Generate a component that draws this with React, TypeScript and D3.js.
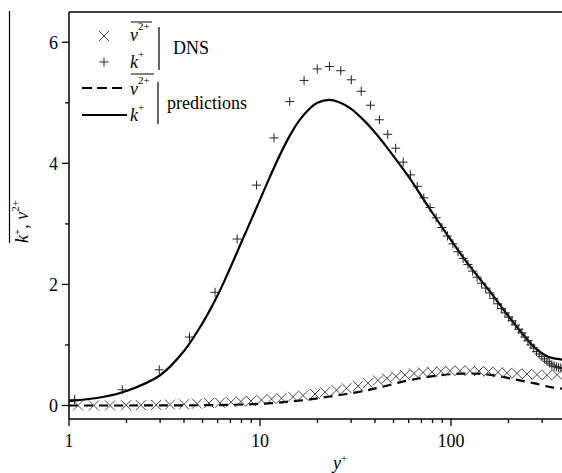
import React from "react";
import * as d3 from "d3";

// ---------- data ----------
// DNS k+ (plus markers)
const dnsKY = [1.07, 1.902, 2.97, 4.275, 5.815, 7.59, 9.598, 11.84, 14.31, 17.01, 19.94, 23.09, 26.47, 30.07, 33.89, 37.92, 42.18, 46.64, 51.32, 56.2, 61.28, 66.57, 72.05, 77.73, 83.6, 89.66, 95.9, 102.32, 108.92, 115.69, 122.63, 129.73, 137.0, 144.4, 151.98, 159.7, 167.56, 175.55, 183.68, 191.93, 200.31, 208.8, 217.41, 226.11, 234.93, 243.84, 252.84, 261.93, 271.09, 280.34, 289.65, 299.02, 308.45, 317.94, 327.47, 337.04, 346.65, 356.28, 365.94, 375.62, 385.31, 395];
const dnsK = [0.1, 0.26, 0.59, 1.13, 1.87, 2.75, 3.64, 4.42, 5.02, 5.37, 5.56, 5.6, 5.53, 5.38, 5.19, 4.96, 4.72, 4.48, 4.25, 4.02, 3.81, 3.62, 3.43, 3.27, 3.1, 2.94, 2.8, 2.67, 2.54, 2.43, 2.33, 2.22, 2.12, 2.02, 1.94, 1.86, 1.77, 1.68, 1.6, 1.53, 1.46, 1.4, 1.33, 1.26, 1.2, 1.13, 1.07, 1.0, 0.95, 0.89, 0.85, 0.81, 0.77, 0.73, 0.7, 0.67, 0.65, 0.64, 0.63, 0.62, 0.61, 0.61];

// DNS v2+ (cross markers)
const dnsV2Y = [1.115, 1.35, 1.64, 1.99, 2.38, 2.86, 3.38, 4.0, 4.68, 5.41, 6.17, 7.05, 7.95, 8.97, 10.18, 11.49, 12.96, 14.89, 16.8, 19.41, 21.89, 25.15, 28.38, 32.6, 36.77, 41.47, 46.24, 51.5, 57.4, 64.0, 71.4, 79.5, 88.6, 98.8, 111.4, 125.8, 140.2, 157.1, 176.2, 196.4, 221.6, 250, 282, 318, 359];
const dnsV2 = [0.0, 0.0, 0.0, 0.005, 0.005, 0.01, 0.015, 0.02, 0.03, 0.04, 0.045, 0.055, 0.065, 0.075, 0.09, 0.105, 0.12, 0.145, 0.165, 0.19, 0.22, 0.255, 0.285, 0.32, 0.37, 0.415, 0.45, 0.48, 0.505, 0.53, 0.545, 0.555, 0.565, 0.575, 0.575, 0.575, 0.57, 0.56, 0.55, 0.54, 0.53, 0.52, 0.51, 0.5, 0.51];

// predictions k+ (solid)
const predKY = [1, 1.5, 2, 3, 4, 5, 6, 7, 8, 10, 12, 14, 16, 18, 20, 23, 26, 30, 35, 40, 45, 50, 60, 70, 80, 100, 120, 140, 160, 195, 240, 280, 320, 360, 400];
const predK = [0.07, 0.14, 0.24, 0.5, 0.9, 1.36, 1.82, 2.28, 2.7, 3.4, 3.97, 4.4, 4.7, 4.89, 5.0, 5.05, 5.01, 4.9, 4.71, 4.51, 4.31, 4.12, 3.78, 3.46, 3.18, 2.73, 2.38, 2.11, 1.88, 1.52, 1.16, 0.93, 0.81, 0.77, 0.75];

// predictions v2+ (dashed)
const predV2Y = [1, 2, 3, 5.26, 7.22, 9.19, 11.5, 14.65, 18.27, 22.8, 28.4, 36.2, 42.5, 55.2, 68.8, 87.6, 111.4, 139, 173.5, 216, 270, 337, 381, 400];
const predV2 = [0, 0, 0.002, 0.005, 0.012, 0.022, 0.038, 0.07, 0.1, 0.145, 0.19, 0.25, 0.3, 0.39, 0.45, 0.5, 0.525, 0.525, 0.49, 0.43, 0.37, 0.3, 0.28, 0.27];

const yMajorTicks = [0, 2, 4, 6];
const yMinorTicks = [1, 3, 5];
const xMajorTicks = [1, 10, 100];
const xMinorTicks = [2, 3, 4, 5, 6, 7, 8, 9, 20, 30, 40, 50, 60, 70, 80, 90, 200, 300];

const FONT = "'Liberation Serif', 'Times New Roman', serif";

export default function App() {
  const W = 562, H = 473;
  const left = 69, top = 12, bottom = 419;
  const x = d3.scaleLog().domain([1, 400]).range([left, left + 191 * Math.log10(400)]);
  const y = d3.scaleLinear().domain([-0.223, 6.5]).range([bottom, top]);

  const line = d3.line<[number, number]>()
    .x(d => x(d[0]))
    .y(d => y(d[1]))
    .curve(d3.curveCatmullRom.alpha(0.5));

  const kPath = line(predKY.map((v, i) => [v, predK[i]]));
  const vPath = line(predV2Y.map((v, i) => [v, predV2[i]]));

  const plus = (cx: number, cy: number, s: number, key: string) => (
    <path key={key} d={`M${cx - s},${cy}H${cx + s}M${cx},${cy - s}V${cy + s}`} stroke="#222" strokeWidth={1} fill="none" />
  );
  const cross = (cx: number, cy: number, s: number, key: string) => (
    <path key={key} d={`M${cx - s},${cy - s}L${cx + s},${cy + s}M${cx - s},${cy + s}L${cx + s},${cy - s}`} stroke="#333" strokeWidth={0.9} fill="none" />
  );

  return (
    <svg width={W} height={H} style={{ position: "absolute", left: 0, top: 0, background: "#fff" }} fontFamily={FONT}>
      <defs>
        <clipPath id="plotclip">
          <rect x={left} y={top} width={W - left + 10} height={bottom - top} />
        </clipPath>
      </defs>

      {/* frame */}
      <line x1={left} y1={top} x2={W} y2={top} stroke="#000" strokeWidth={1.5} />
      <line x1={left} y1={top} x2={left} y2={bottom} stroke="#000" strokeWidth={1.5} />
      <line x1={left} y1={bottom} x2={W} y2={bottom} stroke="#000" strokeWidth={1.5} />

      {/* y ticks */}
      {yMajorTicks.map(t => (
        <g key={"ym" + t}>
          <line x1={left - 7} x2={left} y1={y(t)} y2={y(t)} stroke="#000" strokeWidth={1.3} />
          <text x={left - 11} y={y(t)} dy="0.35em" textAnchor="end" fontSize={18}>{t}</text>
        </g>
      ))}
      {yMinorTicks.map(t => (
        <line key={"yn" + t} x1={left - 4} x2={left} y1={y(t)} y2={y(t)} stroke="#000" strokeWidth={1.3} />
      ))}

      {/* x ticks */}
      {xMajorTicks.map(t => (
        <g key={"xm" + t}>
          <line x1={x(t)} x2={x(t)} y1={bottom} y2={bottom + 7} stroke="#000" strokeWidth={1.3} />
          <text x={x(t)} y={447} textAnchor="middle" fontSize={18}>{t}</text>
        </g>
      ))}
      {xMinorTicks.map(t => (
        <line key={"xn" + t} x1={x(t)} x2={x(t)} y1={bottom} y2={bottom + 4} stroke="#000" strokeWidth={1.3} />
      ))}

      {/* axis titles */}
      <text x={340} y={469} textAnchor="middle" fontSize={18} fontStyle="italic">
        y<tspan dy={-7} fontSize={11} fontStyle="normal">+</tspan>
      </text>
      <line x1={9.5} y1={11} x2={9.5} y2={243} stroke="#000" strokeWidth={1.2} />
      <text transform="translate(28,243) rotate(-90)" fontSize={18} fontStyle="italic">
        k<tspan dy={-7} fontSize={11} fontStyle="normal">+</tspan>
        <tspan dy={7} fontStyle="normal">, </tspan>
        <tspan>v</tspan>
        <tspan dy={-9} fontSize={11} fontStyle="normal">2+</tspan>
      </text>

      {/* data */}
      <g clipPath="url(#plotclip)">
        <path d={vPath || ""} fill="none" stroke="#000" strokeWidth={2.2} strokeDasharray="9,6" />
        <path d={kPath || ""} fill="none" stroke="#000" strokeWidth={2.2} />
        {dnsV2Y.map((v, i) => cross(x(v), y(dnsV2[i]), 5, "c" + i))}
        {dnsKY.map((v, i) => plus(x(v), y(dnsK[i]), 4.5, "p" + i))}
      </g>

      {/* legend */}
      {cross(104, 36, 5, "lc")}
      {plus(104, 62, 4.5, "lp")}
      <text x={130} y={41} fontSize={18} fontStyle="italic">v<tspan dy={-11} fontSize={11} fontStyle="normal">2+</tspan></text>
      <line x1={131} x2={152} y1={22} y2={22} stroke="#000" strokeWidth={1} />
      <text x={130} y={68} fontSize={18} fontStyle="italic">k<tspan dy={-10} fontSize={11} fontStyle="normal">+</tspan></text>
      <line x1={159} x2={159} y1={27} y2={70} stroke="#000" strokeWidth={1.2} />
      <text x={173} y={54} fontSize={18}>DNS</text>

      <line x1={82} x2={127} y1={88} y2={88} stroke="#000" strokeWidth={2.2} strokeDasharray="10,5" />
      <line x1={82} x2={127} y1={115} y2={115} stroke="#000" strokeWidth={2.2} />
      <text x={130} y={95} fontSize={18} fontStyle="italic">v<tspan dy={-11} fontSize={11} fontStyle="normal">2+</tspan></text>
      <line x1={131} x2={154} y1={74} y2={74} stroke="#000" strokeWidth={1} />
      <text x={130} y={121} fontSize={18} fontStyle="italic">k<tspan dy={-10} fontSize={11} fontStyle="normal">+</tspan></text>
      <line x1={158} x2={158} y1={82} y2={124} stroke="#000" strokeWidth={1.2} />
      <text x={167} y={109} fontSize={18}>predictions</text>
    </svg>
  );
}
